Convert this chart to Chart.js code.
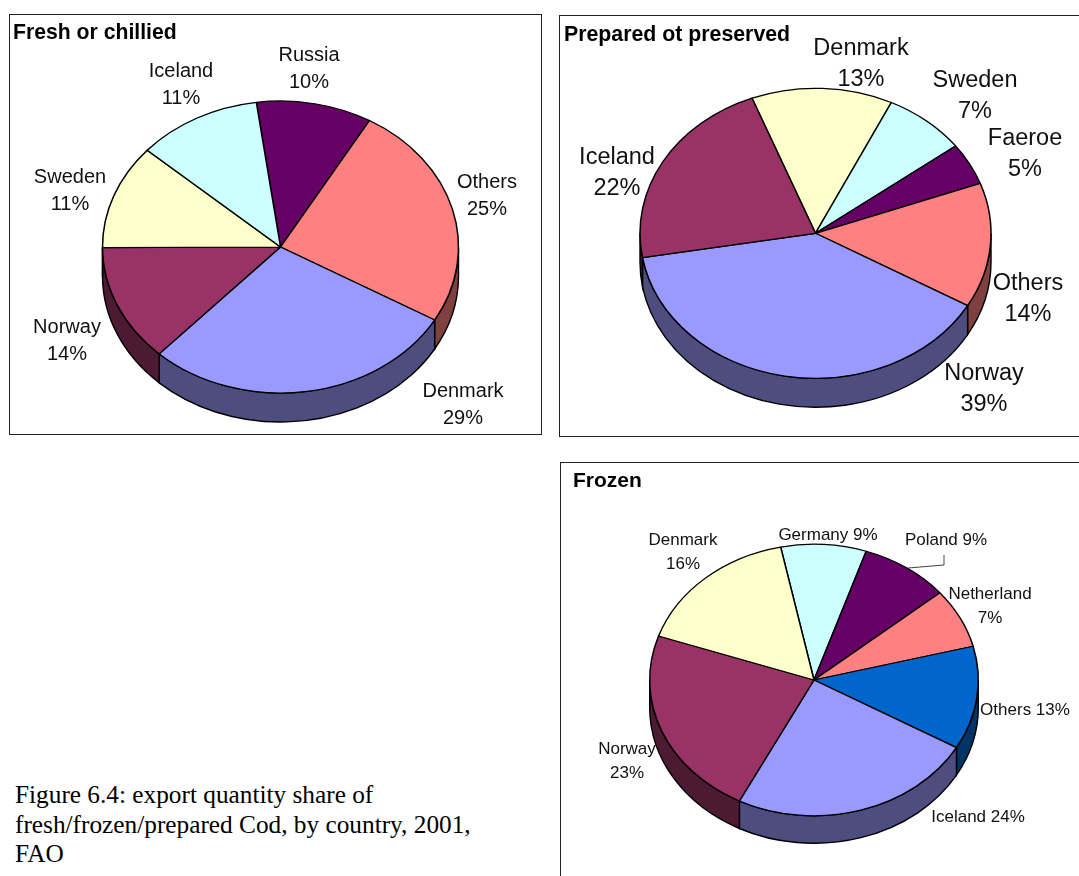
<!DOCTYPE html>
<html>
<head>
<meta charset="utf-8">
<title>Cod export share</title>
<script src="https://cdn.jsdelivr.net/npm/chart.js@4"></script>
<style>
  html, body { margin: 0; padding: 0; background: #fff; overflow: hidden; width: 1079px; height: 876px; }
  .frame { position: absolute; border: 1px solid #222; box-sizing: content-box; }
  .frame canvas { display: block; }
  #caption { position: absolute; left: 15px; top: 780px; font: 25.3px/29.5px "Liberation Serif", serif; color: #000; white-space: nowrap; }
</style>
</head>
<body>
<div class="frame" style="left:9px;top:14px;width:531px;height:419px"><canvas id="fresh" width="531" height="419"></canvas></div>
<div class="frame" style="left:559px;top:15px;width:540px;height:420px"><canvas id="prepared" width="540" height="420"></canvas></div>
<div class="frame" style="left:560px;top:462px;width:540px;height:440px"><canvas id="frozen" width="540" height="440"></canvas></div>
<div id="caption">Figure 6.4: export quantity share of<br>fresh/frozen/prepared Cod, by country, 2001,<br>FAO</div>
<script>
"use strict";

const PURPLE = "#9999FF", PLUM = "#993366", CREAM = "#FFFFCC", AQUA = "#CCFFFF";
const VIOLET = "#660066", SALMON = "#FF8080", BLUE = "#0066CC";

// ── Fresh or chillied
const freshCountries = ["Russia", "Others", "Denmark", "Norway", "Sweden", "Iceland"];
const freshValues    = [10.5, 25, 28.6, 13, 11.6, 11.3];
const freshLabels    = [["Russia", "10%"], ["Others", "25%"], ["Denmark", "29%"], ["Norway", "14%"], ["Sweden", "11%"], ["Iceland", "11%"]];
const freshColors    = [VIOLET, SALMON, PURPLE, PLUM, CREAM, AQUA];
const freshSpots     = [[309, 55], [487, 182], [463, 391], [67, 327], [70, 177], [181, 71]];

// ── Prepared ot preserved
const preparedCountries = ["Denmark", "Sweden", "Faeroe", "Others", "Norway", "Iceland"];
const preparedValues    = [13, 7.6, 4.7, 13.9, 39, 21.8];
const preparedLabels    = [["Denmark", "13%"], ["Sweden", "7%"], ["Faeroe", "5%"], ["Others", "14%"], ["Norway", "39%"], ["Iceland", "22%"]];
const preparedColors    = [CREAM, AQUA, VIOLET, SALMON, PURPLE, PLUM];
const preparedSpots     = [[861, 49], [975, 81], [1025, 139], [1028, 284], [984, 374], [617, 158]];

// ── Frozen
const frozenCountries = ["Germany", "Poland", "Netherland", "Others", "Iceland", "Norway", "Denmark"];
const frozenValues    = [8.4, 8.75, 7.1, 12.3, 24.2, 22.75, 16.5];
const frozenLabels    = [["Germany 9%"], ["Poland 9%"], ["Netherland", "7%"], ["Others 13%"], ["Iceland 24%"], ["Norway", "23%"], ["Denmark", "16%"]];
const frozenColors    = [AQUA, VIOLET, SALMON, BLUE, PURPLE, PLUM, CREAM];
const frozenSpots     = [[828, 535], [946, 540], [990, 594], [1025, 710], [978, 817], [627, 749], [683, 540]];
const frozenLeader    = [[944, 555], [944, 565], [908, 568]];

// half brightness for the side wall of a slice
function darken(hex) {
  const n = parseInt(hex.slice(1), 16);
  const half = v => Math.round(v / 2);
  return `rgb(${half(n >> 16 & 255)},${half(n >> 8 & 255)},${half(n & 255)})`;
}

// ── Tilted disc with a wall, plus outside labels
const pie3d = {
  id: "pie3d",
  beforeDatasetDraw(chart, args) {
    const { ctx } = chart;
    const o = chart.options.plugins.pie3d;
    const arcs = chart.getDatasetMeta(args.index).data;
    const colors = chart.data.datasets[args.index].backgroundColor;
    const rx = arcs[0].outerRadius, ry = rx * o.tilt;
    const cx = o.cx, cy = o.cy;

    ctx.save();
    ctx.lineWidth = 1.4;
    ctx.strokeStyle = "#000";
    arcs.forEach((arc, i) => {
      for (const shift of [-2, 0, 2]) {
        const lo = Math.max(arc.startAngle, shift * Math.PI);
        const hi = Math.min(arc.endAngle, (shift + 1) * Math.PI);
        if (hi <= lo) continue;
        ctx.beginPath();
        ctx.ellipse(cx, cy, rx, ry, 0, lo, hi);
        ctx.ellipse(cx, cy + o.depth, rx, ry, 0, hi, lo, true);
        ctx.closePath();
        ctx.fillStyle = darken(colors[i]);
        ctx.fill();
        ctx.stroke();
      }
    });
    ctx.restore();

    ctx.save();
    ctx.translate(cx, cy);
    ctx.scale(1, o.tilt);
    ctx.translate(-arcs[0].x, -arcs[0].y);
  },
  afterDatasetDraw(chart) {
    chart.ctx.restore();
  },
  afterDraw(chart) {
    const { ctx } = chart;
    const o = chart.options.plugins.pie3d;
    const box = chart.canvas.getBoundingClientRect();
    ctx.save();
    ctx.fillStyle = "#111";
    ctx.font = `${o.fontSize}px "Liberation Sans"`;
    ctx.textAlign = "center";
    ctx.textBaseline = "middle";
    o.labels.forEach((lines, i) => {
      lines.forEach((line, k) => {
        ctx.fillText(line, o.spots[i][0] - box.left, o.spots[i][1] - box.top + k * o.lineGap);
      });
    });
    if (o.leader) {
      ctx.strokeStyle = "#111";
      ctx.lineWidth = 0.8;
      ctx.beginPath();
      o.leader.forEach(([x, y], i) => {
        if (i) ctx.lineTo(x - box.left, y - box.top);
        else ctx.moveTo(x - box.left, y - box.top);
      });
      ctx.stroke();
    }
    ctx.restore();
  },
};

function makePie(id, cfg) {
  return new Chart(document.getElementById(id), {
    type: "pie",
    plugins: [pie3d],
    data: {
      labels: cfg.countries,
      datasets: [{
        data: cfg.values,
        backgroundColor: cfg.colors,
        borderColor: "#000",
        borderWidth: 1.5,
        radius: cfg.rx,
        clip: false,
      }],
    },
    options: {
      responsive: false,
      animation: false,
      rotation: cfg.rotation,
      layout: { padding: { left: cfg.titleLeft } },
      plugins: {
        legend: { display: false },
        tooltip: { enabled: false },
        title: {
          display: true,
          text: cfg.title,
          align: "start",
          color: "#000",
          font: { family: "Liberation Sans", size: cfg.titleSize, weight: "bold" },
          padding: { top: cfg.titleTop, bottom: 0 },
        },
        pie3d: {
          cx: cfg.cx, cy: cfg.cy, tilt: cfg.tilt, depth: cfg.depth,
          labels: cfg.labels, spots: cfg.spots,
          fontSize: cfg.fontSize, lineGap: cfg.lineGap, leader: cfg.leader,
        },
      },
    },
  });
}

// cx, cy are relative to the canvas
makePie("fresh", {
  countries: freshCountries, values: freshValues, colors: freshColors, labels: freshLabels, spots: freshSpots,
  title: "Fresh or chillied", titleSize: 21.2, titleLeft: 3, titleTop: 5,
  rotation: -7.8, rx: 178, tilt: 146 / 178, depth: 29, cx: 270.5, cy: 232,
  fontSize: 20, lineGap: 27.5,
});

makePie("prepared", {
  countries: preparedCountries, values: preparedValues, colors: preparedColors, labels: preparedLabels, spots: preparedSpots,
  title: "Prepared ot preserved", titleSize: 21.3, titleLeft: 4, titleTop: 6,
  rotation: -21.2, rx: 175.5, tilt: 145 / 175.5, depth: 29, cx: 255.5, cy: 217.3,
  fontSize: 23.5, lineGap: 30.5,
});

makePie("frozen", {
  countries: frozenCountries, values: frozenValues, colors: frozenColors, labels: frozenLabels, spots: frozenSpots,
  title: "Frozen", titleSize: 21, titleLeft: 12, titleTop: 6,
  rotation: -11.7, rx: 164.3, tilt: 135.8 / 164.3, depth: 27.5, cx: 253, cy: 217,
  fontSize: 17, lineGap: 24, leader: frozenLeader,
});
</script>
</body>
</html>
